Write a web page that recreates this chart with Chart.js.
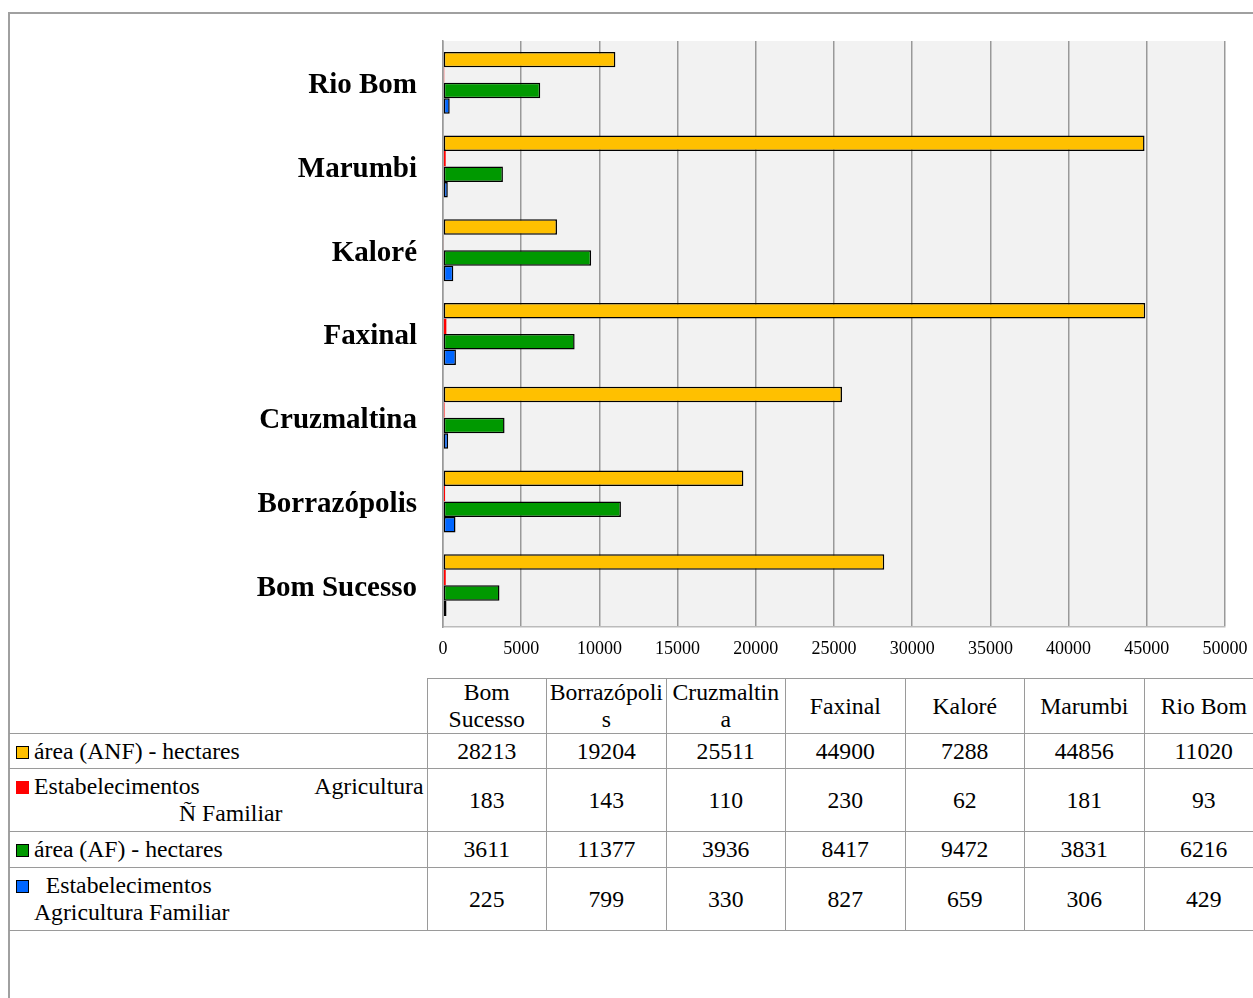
<!DOCTYPE html>
<html>
<head>
<meta charset="utf-8">
<script src="https://cdn.jsdelivr.net/npm/chart.js@4"></script>
<style>
  html, body { margin: 0; padding: 0; background: #fff; }
  body { width: 1253px; height: 998px; position: relative; overflow: hidden; font-family: "Liberation Serif", serif; }
  #frame { position: absolute; left: 8px; top: 12px; width: 1300px; height: 1100px; border-left: 2px solid #a0a0a0; border-top: 2px solid #a0a0a0; }
  #wrap { position: absolute; left: 0; top: 0; width: 1253px; height: 675px; }
  #tbl { position: absolute; left: 9px; top: 678px; width: 1255px; border-collapse: collapse; table-layout: fixed; font-size: 23.7px; color: #000; }
  #tbl td { border: 1px solid #9a9a9a; text-align: center; padding: 0 2px; line-height: 27px; overflow-wrap: anywhere; }
  #tbl tr.head td.blank { border-top: none; border-left: none; }
  #tbl td.lab { text-align: left; padding-left: 25px; padding-right: 3px; border-left: none; text-indent: -18px; }
  #tbl td.lab .l1 { text-align: justify; text-align-last: justify; }
  #tbl td.lab .l2 { text-align: center; text-indent: 0; padding-left: 4px; }
  .key { display: inline-block; width: 11px; height: 11px; border: 1px solid #000; margin-right: 5px; vertical-align: 0px; text-indent: 0; }
</style>
</head>
<body>
<div id="frame"></div>
<div id="wrap"><canvas id="c"></canvas></div>
<table id="tbl"></table>
<script>
// municípios (ordem da tabela)
const municipios = ["Bom Sucesso", "Borrazópolis", "Cruzmaltina", "Faxinal", "Kaloré", "Marumbi", "Rio Bom"];

const nomesSeries = [
  "área (ANF) - hectares",
  "Estabelecimentos Agricultura Ñ Familiar",
  "área (AF) - hectares",
  "Estabelecimentos Agricultura Familiar"
];

const areaANF = [28213, 19204, 25511, 44900, 7288, 44856, 11020];
const estabNF = [183, 143, 110, 230, 62, 181, 93];
const areaAF = [3611, 11377, 3936, 8417, 9472, 3831, 6216];
const estabAF = [225, 799, 330, 827, 659, 306, 429];

const xTicks = [0, 5000, 10000, 15000, 20000, 25000, 30000, 35000, 40000, 45000, 50000];

const CORES = ["#ffc000", "#ff0000", "#009900", "#0066ff"];
const BORDAS = ["#000000", "#ff0000", "#000000", "#000000"];

const series = [areaANF, estabNF, areaAF, estabAF];

// gráfico: Rio Bom no topo
const rotulos = municipios.slice().reverse();

new Chart(document.getElementById('c'), {
  type: 'bar',
  data: {
    labels: rotulos,
    datasets: series.map((s, i) => ({
      label: nomesSeries[i],
      data: s.slice().reverse(),
      backgroundColor: CORES[i],
      borderColor: BORDAS[i],
      borderWidth: 1.5,
      borderSkipped: false,
      barPercentage: 1.0,
      categoryPercentage: 0.74
    }))
  },
  options: {
    indexAxis: 'y',
    responsive: true,
    maintainAspectRatio: false,
    animation: false,
    layout: { padding: { top: 41, right: 28, left: 0, bottom: 0 } },
    scales: {
      x: {
        min: 0, max: 50000,
        afterBuildTicks: (s) => { s.ticks = xTicks.map(v => ({ value: v })); },
        afterFit: (s) => { s.height = 48; s.paddingLeft = 0; s.paddingRight = 0; },
        ticks: {
          color: '#000', font: { family: 'Liberation Serif', size: 18 }, padding: 11, maxRotation: 0,
          callback: (v) => String(v)
        },
        grid: { color: '#999999', lineWidth: 1.5, drawTicks: false },
        border: { color: '#bbbbbb', width: 1.5 }
      },
      y: {
        afterFit: (s) => { s.width = 443; s.paddingTop = 0; s.paddingBottom = 0; },
        ticks: { color: '#000', font: { family: 'Liberation Serif', size: 29, weight: 'bold' }, padding: 26, labelOffset: 3 },
        grid: { display: false, drawTicks: false },
        border: { color: '#999999', width: 1.5 }
      }
    },
    plugins: {
      legend: { display: false },
      tooltip: { enabled: false }
    }
  },
  plugins: [{
    id: 'fundo',
    beforeDraw(chart) {
      const { ctx, chartArea: a } = chart;
      ctx.save();
      ctx.fillStyle = '#f2f2f2';
      ctx.fillRect(a.left, a.top, a.right - a.left, a.bottom - a.top);
      ctx.restore();
    }
  }]
});

// tabela de dados
const tbl = document.getElementById('tbl');
const colg = '<colgroup><col style="width:418px">' + municipios.map(() => '<col style="width:119.5px">').join('') + '</colgroup>';

const alturas = [54, 35, 63, 36, 63];
let head = '<tr class="head" style="height:' + alturas[0] + 'px"><td class="blank"></td>' +
  municipios.map(m => '<td>' + m + '</td>').join('') + '</tr>';
let corpo = '';
series.forEach((s, i) => {
  let lab;
  const key = '<span class="key" style="background:' + CORES[i] + ';border-color:' + (i === 1 ? CORES[i] : '#000') + '"></span>';
  if (i === 1) {
    const k = nomesSeries[i].indexOf(' Ñ');
    lab = '<td class="lab"><div class="l1">' + key + nomesSeries[i].slice(0, k) + '</div><div class="l2">' + nomesSeries[i].slice(k + 1) + '</div></td>';
  } else if (i === 3) {
    lab = '<td class="lab">' + key + '&nbsp;&nbsp;' + nomesSeries[i].replace(' Agricultura', '<br>Agricultura') + '</td>';
  } else {
    lab = '<td class="lab">' + key + nomesSeries[i] + '</td>';
  }
  corpo += '<tr style="height:' + alturas[i + 1] + 'px">' + lab + s.map(v => '<td>' + v + '</td>').join('') + '</tr>';
});
tbl.innerHTML = colg + head + corpo;
</script>
</body>
</html>
